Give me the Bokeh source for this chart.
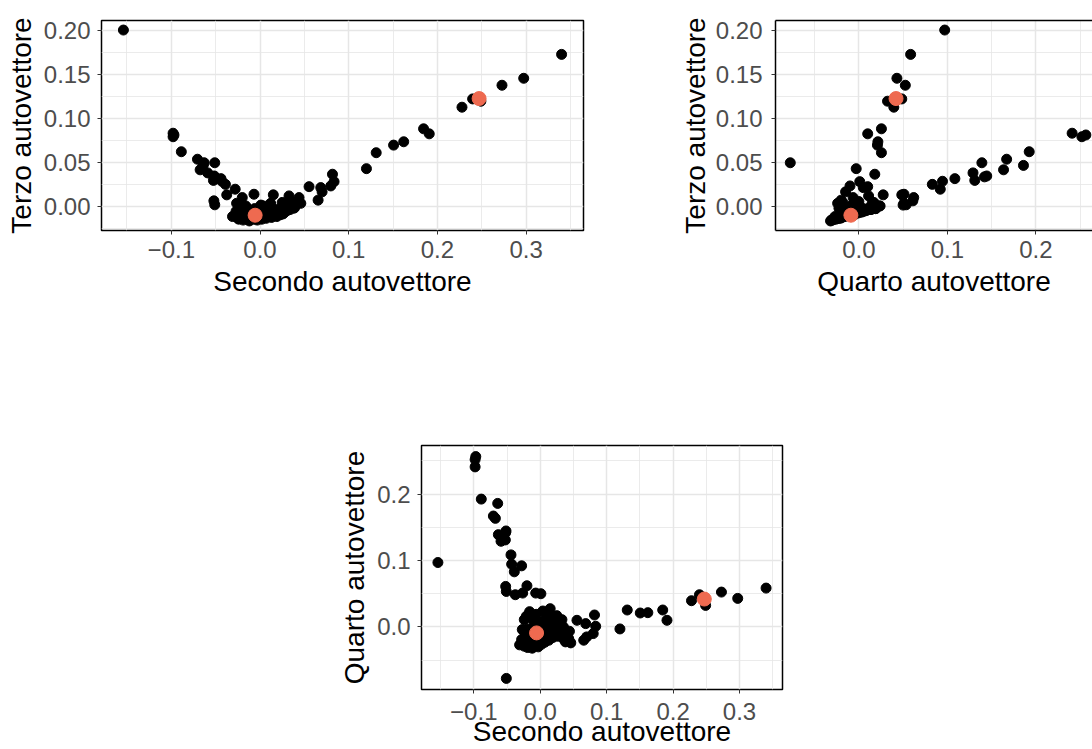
from bokeh.plotting import figure
from bokeh.layouts import column, row
from bokeh.models import FixedTicker, LinearAxis, Range1d
from bokeh.embed import file_html
from bokeh.resources import INLINE

# ---- data: one entry per observation (2nd, 3rd, 4th eigenvector) ----
secondo = [
    -0.154, -0.098, -0.098, -0.097, -0.0887, -0.0705, -0.064, -0.063, -0.0675, -0.059,
    -0.0525, -0.0515, -0.052, -0.044, -0.043, -0.039, -0.028, -0.051, -0.052, -0.051,
    -0.0375, -0.020, -0.0068, -0.0264, 0.001, 0.0817, 0.0835, 0.0798, 0.0553, 0.0685,
    0.070, 0.0655, 0.044, 0.0327, 0.015, 0.038, 0.120, 0.131, 0.1506, 0.162,
    0.1844, 0.1908, 0.2277, 0.2397, 0.249, 0.2728, 0.2973, 0.340,
    -0.031, -0.028, -0.027, -0.025, -0.024, -0.024, -0.022, -0.021, -0.020, -0.019,
    -0.019, -0.017, -0.016, -0.016, -0.014, -0.013, -0.013, -0.012, -0.010, -0.010,
    -0.009, -0.007, -0.007, -0.006, -0.004, -0.004, -0.003, -0.001, -0.001, 0.000,
    0.002, 0.002, 0.003, 0.004, 0.006, 0.006, 0.007, 0.009, 0.009, 0.011,
    0.012, 0.013, 0.015, 0.016, 0.017, 0.019, 0.020, 0.021, 0.023, 0.024,
    0.026, 0.027, 0.028, 0.031, 0.032, 0.034, 0.036, 0.039, 0.040, 0.043,
    0.046, 0.035, 0.025, 0.012,
]
terzo = [
    0.2005, 0.0835, 0.0795, 0.0815, 0.0625, 0.054, 0.047, 0.050, 0.042, 0.0385,
    0.030, 0.035, 0.034, 0.032, 0.029, 0.0255, 0.020, 0.050, 0.0068, 0.0023,
    0.0136, 0.0105, 0.0143, 0.004, 0.002, 0.037, 0.0286, 0.0237, 0.0229, 0.0218,
    0.017, 0.0076, 0.0105, 0.0124, 0.0136, -0.0015, 0.0433, 0.0614, 0.070, 0.0738,
    0.0885, 0.0828, 0.113, 0.1224, 0.1198, 0.1379, 0.1458, 0.1729,
    -0.011, -0.009, -0.005, -0.013, -0.003, -0.014, -0.008, -0.001, -0.011, -0.015,
    -0.006, -0.009, 0.001, -0.013, -0.007, -0.011, -0.003, -0.016, -0.008, -0.012,
    -0.004, -0.014, -0.010, -0.002, -0.013, -0.007, -0.015, -0.009, -0.004, -0.012,
    -0.006, -0.014, -0.010, 0.001, -0.011, -0.005, -0.013, -0.008, -0.003, -0.010,
    -0.006, -0.012, -0.002, -0.009, -0.004, -0.011, -0.007, -0.003, -0.009, -0.005,
    -0.008, -0.002, -0.006, -0.004, 0.000, -0.003, 0.002, -0.001, 0.003, 0.005,
    0.004, 0.006, 0.005, 0.004,
]
quarto = [
    0.097, 0.241, 0.252, 0.2565, 0.1925, 0.167, 0.186, 0.139, 0.1635, 0.129,
    0.131, 0.1445, 0.142, 0.1085, 0.0945, 0.083, 0.092, -0.0775, 0.061, 0.0534,
    0.0485, 0.062, 0.051, 0.051, 0.050, 0.018, 0.001, -0.010, 0.010, 0.005,
    -0.015, -0.020, -0.0065, 0.011, 0.0275, -0.0225, -0.003, 0.0255, 0.021, 0.0215,
    0.0255, 0.010, 0.0395, 0.0485, 0.0324, 0.0525, 0.043, 0.0585,
    -0.027, -0.019, -0.004, -0.024, 0.011, -0.029, -0.011, 0.016, -0.021, -0.031,
    -0.003, -0.014, 0.023, -0.025, -0.007, -0.018, 0.013, -0.032, -0.009, -0.023,
    0.005, -0.028, -0.016, 0.019, -0.021, -0.004, -0.030, -0.012, 0.008, -0.019,
    0.001, -0.026, -0.013, 0.024, -0.017, 0.006, -0.023, -0.008, 0.014, -0.011,
    0.003, -0.020, 0.019, -0.005, 0.009, -0.016, -0.001, 0.012, -0.010, 0.004,
    -0.014, 0.010, -0.006, -0.011, 0.002, -0.017, -0.008, -0.013, -0.021, -0.018,
    -0.024, 0.000, 0.017, 0.015,
]

# highlighted observations (drawn in orange-red)
hl_secondo = [-0.0055, 0.247]
hl_terzo = [-0.0095, 0.1228]
hl_quarto = [-0.009, 0.042]

# ticks
s_ticks = [-0.1, 0.0, 0.1, 0.2, 0.3]
s_minor = [-0.15, -0.05, 0.05, 0.15, 0.25, 0.35]
s_labels = ["\u22120.1", "0.0", "0.1", "0.2", "0.3"]
t_ticks = [0.0, 0.05, 0.10, 0.15, 0.20]
t_minor = [-0.025, 0.025, 0.075, 0.125, 0.175]
t_labels = ["0.00", "0.05", "0.10", "0.15", "0.20"]
q_ticks = [0.0, 0.1, 0.2]
q_minor = [-0.05, 0.05, 0.15, 0.25]
q_labels = ["0.0", "0.1", "0.2"]

FONT = "Liberation Sans"
HL_COLOR = "#EE6A50"
GRID = "#E6E6E6"


def padded(*lists):
    vals = [v for l in lists for v in l]
    lo, hi = min(vals), max(vals)
    span = hi - lo
    return lo - 0.05 * span, hi + 0.05 * span


def style_axis(ax, ticks, minor, labels, label, tick_standoff, label_standoff, line):
    ax.ticker = FixedTicker(ticks=ticks, minor_ticks=minor)
    ax.major_label_overrides = {t: s for t, s in zip(ticks, labels)}
    ax.axis_label = label
    ax.axis_label_text_font = FONT
    ax.axis_label_text_font_size = "28px"
    ax.axis_label_text_font_style = "normal"
    ax.axis_label_text_color = "black"
    ax.axis_label_standoff = label_standoff
    ax.major_label_text_font = FONT
    ax.major_label_text_font_size = "24px"
    ax.major_label_text_color = "#4D4D4D"
    ax.major_label_standoff = tick_standoff
    ax.major_tick_out = 4
    ax.major_tick_in = 0
    ax.major_tick_line_color = "#333333"
    ax.major_tick_line_width = 1
    ax.minor_tick_out = 0
    ax.minor_tick_in = 0
    if line:
        ax.axis_line_color = "black"
        ax.axis_line_width = 1.5
    else:
        ax.axis_line_color = None


def make_fig(xv, yv, hx, hy, xr, yr, xspec, yspec, xlabel, ylabel, width, height,
             borders, outline, xs, ys):
    p = figure(width=width, height=height, x_range=Range1d(*xr), y_range=Range1d(*yr),
               output_backend="svg", toolbar_location=None,
               min_border_left=borders[0], min_border_right=borders[1],
               min_border_top=borders[2], min_border_bottom=borders[3])
    p.background_fill_color = "white"
    p.border_fill_color = "white"
    if outline:
        p.outline_line_color = "black"
        p.outline_line_width = 1.5
    else:
        p.outline_line_color = None
    style_axis(p.xaxis[0], *xspec, xlabel, xs[0], xs[1], not outline)
    style_axis(p.yaxis[0], *yspec, ylabel, ys[0], ys[1], not outline)
    for g, spec in ((p.xgrid[0], xspec), (p.ygrid[0], yspec)):
        g.ticker = FixedTicker(ticks=spec[0], minor_ticks=spec[1])
        g.grid_line_color = GRID
        g.grid_line_width = 1.5
        g.minor_grid_line_color = GRID
        g.minor_grid_line_width = 0.8
    p.scatter(xv, yv, size=10, color="black")
    p.scatter(hx, hy, size=14, color=HL_COLOR)
    return p


s_range = padded(secondo, hl_secondo)
t_range = padded(terzo, hl_terzo)
q_range = padded(quarto, hl_quarto)
# the right-hand panel is cut by the page edge: show ~97.5% of its x extent
q_visible = (q_range[0], q_range[0] + (q_range[1] - q_range[0]) * 0.975)

s_spec = (s_ticks, s_minor, s_labels)
t_spec = (t_ticks, t_minor, t_labels)
q_spec = (q_ticks, q_minor, q_labels)

p1 = make_fig(secondo, terzo, hl_secondo, hl_terzo, s_range, t_range, s_spec, t_spec,
              "Secondo autovettore", "Terzo autovettore", 600, 310,
              (101, 17, 19, 80), True, (6, 5), (7, 4))
p2 = make_fig(quarto, terzo, hl_quarto, hl_terzo, q_visible, t_range, q_spec, t_spec,
              "Quarto autovettore", "Terzo autovettore", 492, 310,
              (175, 0, 20, 80), False, (6, 5), (9, 2))
top_axis = LinearAxis(ticker=FixedTicker(ticks=[]), axis_line_color="black",
                      axis_line_width=1.5, major_tick_out=0, major_tick_in=0,
                      minor_tick_out=0, minor_tick_in=0, major_label_text_font_size="0px")
p2.add_layout(top_axis, "above")
p3 = make_fig(secondo, quarto, hl_secondo, hl_quarto, s_range, q_range, s_spec, q_spec,
              "Secondo autovettore", "Quarto autovettore", 1092, 439,
              (421, 310, 135, 59), True, (9, -7), (7, 4))

layout = column(row(p1, p2), p3)
open("out.html", "w").write(file_html(layout, INLINE))
